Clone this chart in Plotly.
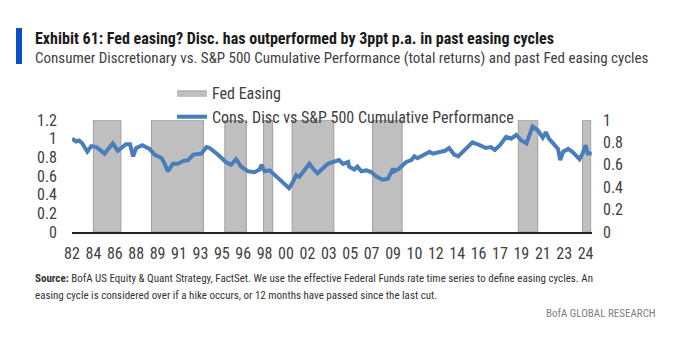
import plotly.graph_objects as go

# ---- data ----
perf_dates = [
    "1982-10", "1983-02", "1983-05", "1983-08", "1984-01", "1984-05", "1984-10", "1985-06",
    "1986-02", "1986-07", "1987-03", "1987-07", "1987-10", "1988-01", "1988-07", "1989-02",
    "1989-07", "1990-02", "1990-05", "1990-08", "1991-01", "1991-06", "1991-11", "1992-04",
    "1992-09", "1993-02", "1993-05", "1993-10", "1994-01", "1994-09", "1995-05", "1995-10",
    "1996-03", "1996-08", "1997-03", "1997-09", "1998-02", "1998-04", "1998-07", "1998-12",
    "1999-05", "1999-11", "2000-04", "2000-07", "2000-11", "2001-02", "2001-05", "2001-10",
    "2002-03", "2002-08", "2002-11", "2003-04", "2003-09", "2004-08", "2004-12", "2005-05",
    "2005-06", "2005-11", "2006-02", "2006-06", "2006-11", "2007-04", "2007-09", "2008-03",
    "2008-08", "2009-01", "2009-02", "2009-07", "2010-02", "2010-07", "2010-10", "2011-01",
    "2011-08", "2012-01", "2012-04", "2012-11", "2013-04", "2013-08", "2014-01", "2014-05",
    "2014-11", "2015-07", "2016-02", "2016-08", "2017-01", "2017-05", "2017-10", "2018-04",
    "2018-09", "2019-02", "2019-07", "2019-12", "2020-06", "2020-11", "2021-04", "2021-07",
    "2021-10", "2022-02", "2022-07", "2022-09", "2022-12", "2023-05", "2023-09", "2024-04",
    "2024-07", "2024-10", "2024-12", "2025-04",
]
perf_values = [
    1.00, 0.97, 0.98, 0.95, 0.86, 0.92, 0.91, 0.84,
    0.95, 0.87, 0.94, 0.94, 0.81, 0.90, 0.93, 0.89,
    0.83, 0.79, 0.73, 0.65, 0.73, 0.73, 0.76, 0.77,
    0.83, 0.84, 0.84, 0.91, 0.90, 0.83, 0.75, 0.72,
    0.78, 0.70, 0.65, 0.64, 0.67, 0.72, 0.65, 0.66,
    0.61, 0.56, 0.50, 0.47, 0.54, 0.61, 0.59, 0.66,
    0.73, 0.66, 0.63, 0.68, 0.73, 0.77, 0.73, 0.75,
    0.70, 0.67, 0.70, 0.65, 0.66, 0.64, 0.59, 0.56,
    0.57, 0.68, 0.65, 0.68, 0.75, 0.77, 0.81, 0.79,
    0.83, 0.86, 0.84, 0.86, 0.87, 0.90, 0.83, 0.81,
    0.88, 0.96, 0.93, 0.90, 0.91, 0.88, 0.93, 1.02,
    1.00, 1.04, 0.98, 0.95, 1.13, 1.09, 1.01, 1.07,
    1.00, 0.95, 0.89, 0.77, 0.86, 0.89, 0.86, 0.78,
    0.84, 0.93, 0.84, 0.84,
]

easing_start = ["1984-07", "1989-04", "1995-04", "1998-06", "2000-10", "2007-05", "2019-04", "2024-07"]
easing_end = ["1986-10", "1993-07", "1997-01", "1999-03", "2004-03", "2009-10", "2020-11", "2025-03"]
easing_level = 1  # full height on the right axis

x_start = "1982-10-01"
x_end = "2025-04-10"
tick_step = "M21"

FONT = "Liberation Sans Narrow, Arial Narrow, Roboto Condensed, DejaVu Sans Condensed, sans-serif"
W, H = 694, 345
L, R, T, B = 72, 102, 120, 113
PW, PH = W - L - R, H - T - B


def px(xp):
    return (xp - L) / PW


def py(yp):
    return (H - B - yp) / PH


# polygon outline of easing cycles
ex, ey = [], []
for s, e in zip(easing_start, easing_end):
    ex += [s, s, e, e, s, None]
    ey += [0, easing_level, easing_level, 0, 0, None]

fig = go.Figure()
# easing cycles on the primary (right-hand) axis, drawn first / underneath
fig.add_trace(go.Scatter(
    x=ex, y=ey, yaxis="y", mode="lines", fill="toself",
    fillcolor="#BFBFBF", line=dict(color="#A0A0A0", width=1),
    name="Fed Easing", hoverinfo="skip",
))
# performance line on the overlaying (left-hand) axis, drawn on top
fig.add_trace(go.Scatter(
    x=perf_dates, y=perf_values, yaxis="y2", mode="lines",
    line=dict(color="#4A7EBB", width=4),
    name="Cons. Disc vs S&P 500 Cumulative Performance",
))

fig.update_layout(
    width=W, height=H,
    margin=dict(l=L, r=R, t=T, b=B),
    paper_bgcolor="white", plot_bgcolor="white",
    font=dict(family=FONT, size=16, color="#404040"),
    showlegend=True,
    legend=dict(
        x=px(172), y=py(76), xanchor="left", yanchor="top",
        font=dict(size=16, color="#404040"), bgcolor="rgba(0,0,0,0)",
        tracegroupgap=0, itemwidth=30,
    ),
    xaxis=dict(
        type="date", range=[x_start, x_end],
        tick0=x_start, dtick=tick_step, tickformat="%y",
        showgrid=False, zeroline=False,
        showline=True, linecolor="#262626", linewidth=2,
        ticks="", ticklabelstandoff=6,
        tickfont=dict(size=16, color="#404040"),
    ),
    yaxis=dict(
        range=[0, 1], dtick=0.2, tick0=0, side="right",
        showgrid=False, zeroline=False, showline=False,
        ticks="", ticklabelstandoff=10,
        tickfont=dict(size=16, color="#404040"),
    ),
    yaxis2=dict(
        range=[0, 1.2], dtick=0.2, tick0=0, side="left", overlaying="y",
        showgrid=False, zeroline=False, showline=False,
        ticks="", ticklabelstandoff=14,
        tickfont=dict(size=16, color="#404040"),
    ),
)

# blue accent bar next to title
fig.add_shape(type="rect", xref="paper", yref="paper",
              x0=px(16), x1=px(22), y0=py(64), y1=py(28),
              fillcolor="#0A4FC4", line=dict(width=0))

ann = [
    dict(text="<b>Exhibit 61: Fed easing? Disc. has outperformed by 3ppt p.a. in past easing cycles</b>",
         x=px(33), y=py(39), size=16, color="#1A1A1A"),
    dict(text="Consumer Discretionary vs. S&P 500 Cumulative Performance (total returns) and past Fed easing cycles",
         x=px(33), y=py(58), size=15, color="#404040"),
    dict(text="<b>Source:</b> BofA US Equity & Quant Strategy, FactSet. We use the effective Federal Funds rate time series to define easing cycles. An",
         x=px(33), y=py(278), size=11, color="#333333"),
    dict(text="easing cycle is considered over if a hike occurs, or 12 months have passed since the last cut.",
         x=px(33), y=py(295), size=11, color="#333333"),
]
for a in ann:
    fig.add_annotation(text=a["text"], xref="paper", yref="paper", x=a["x"], y=a["y"],
                       xanchor="left", yanchor="middle", showarrow=False,
                       font=dict(family=FONT, size=a["size"], color=a["color"]))
fig.add_annotation(text="BofA GLOBAL RESEARCH", xref="paper", yref="paper",
                   x=px(658), y=py(313), xanchor="right", yanchor="middle", showarrow=False,
                   font=dict(family=FONT, size=11, color="#808080"))

fig.write_html("out.html")
